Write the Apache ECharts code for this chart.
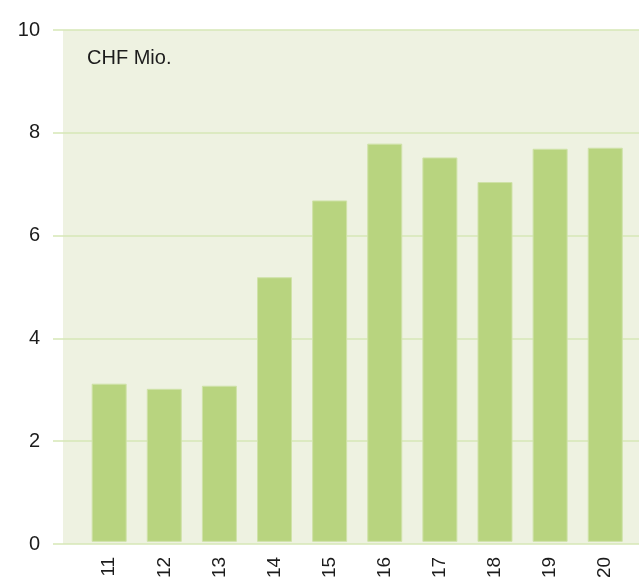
<!DOCTYPE html>
<html>
<head>
<meta charset="utf-8">
<script src="https://cdn.jsdelivr.net/npm/echarts@6/dist/echarts.min.js"></script>
<style>
html,body{margin:0;padding:0;background:#fff;}
#c{width:639px;height:581px;}
</style>
</head>
<body>
<div id="c"></div>
<script>
const categories = ['11','12','13','14','15','16','17','18','19','20'];
const values = [3.09, 2.99, 3.05, 5.17, 6.67, 7.78, 7.51, 7.03, 7.68, 7.70];
const unitLabel = 'CHF Mio.';
const yMin = 0, yMax = 10, yStep = 2;

const chart = echarts.init(document.getElementById('c'), null, {renderer:'canvas'});
const lineColor = '#d6e7b6';
const textColor = '#1c1c1c';
const font = 'Liberation Sans, Arial, Helvetica, sans-serif';

chart.setOption({
  animation: false,
  backgroundColor: '#ffffff',
  grid: [
    {left: 63, right: 0, top: 30, bottom: 37, show: true, backgroundColor: '#eef2e1', borderWidth: 0},
    {left: 81.6, right: 6.2, top: 30, bottom: 37}
  ],
  xAxis: [
    {gridIndex: 0, type: 'value', min: 0, max: 1, show: false},
    {gridIndex: 1, type: 'category', data: categories,
     axisLine: {show: false}, axisTick: {show: false},
     axisLabel: {rotate: 90, margin: 15, color: textColor, fontSize: 19, fontFamily: font}}
  ],
  yAxis: [
    {gridIndex: 0, type: 'value', min: yMin, max: yMax, interval: yStep,
     axisLine: {show: false},
     axisTick: {show: true, length: 10, inside: false, lineStyle: {color: lineColor, width: 1.5}},
     splitLine: {show: true, lineStyle: {color: lineColor, width: 1.5}},
     axisLabel: {margin: 23, color: textColor, fontSize: 20, fontFamily: font}},
    {gridIndex: 1, type: 'value', min: yMin, max: yMax, interval: yStep, show: false, splitLine: {show: false}}
  ],
  graphic: [
    {type: 'text', left: 87, top: 48, style: {text: unitLabel, fill: textColor, font: '20px ' + font}}
  ],
  series: [
    {type: 'bar', xAxisIndex: 1, yAxisIndex: 1, data: values, barWidth: 35,
     itemStyle: {color: '#b8d47f', borderColor: '#cfe2a8', borderWidth: 1}}
  ]
});
</script>
</body>
</html>
